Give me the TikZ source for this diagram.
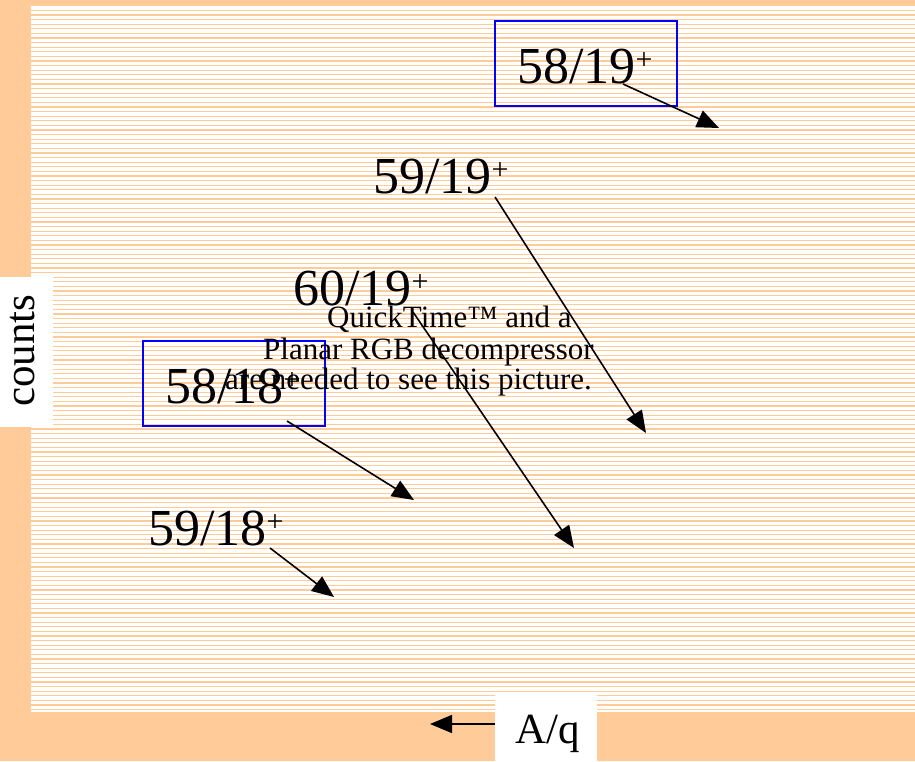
\documentclass[tikz,border=0pt]{standalone}
\usepackage{fontspec}
\setmainfont{Liberation Serif}
\usetikzlibrary{arrows.meta}
\definecolor{peach}{HTML}{FFCC99}
\definecolor{boxblue}{HTML}{0000FF}
\tikzset{
  stripe/.style={draw=peach, line width=1.2pt},
  lbl/.style={anchor=base west, inner sep=0pt, font=\fontsize{52}{52}\selectfont},
  qt/.style={anchor=base west, inner sep=0pt, font=\fontsize{31}{31}\selectfont},
  bluebox/.style={draw=boxblue, line width=1.5pt, inner sep=0pt},
  whitebox/.style={fill=white, draw=none, inner sep=0pt},
  arr/.style={-{Triangle[length=22pt,width=18pt]}, line width=1.6pt},
}
\newcommand{\supplus}{\raisebox{14pt}{\fontsize{30}{30}\selectfont+}}
\begin{document}
\begin{tikzpicture}[x=1pt,y=-1pt]
\useasboundingbox (0,0) rectangle (915,761);
\fill[peach] (0,0) rectangle (915,761);
\fill[white] (31,5) rectangle (915,712);
\foreach \i in {0,...,153} {
  \draw[stripe] (31,5.7+4.6*\i) -- (915,5.7+4.6*\i);
}
% white label boxes
\node[whitebox, minimum width=53pt, minimum height=150pt] (countsbox) at (26.5,352) {};
\node[whitebox, minimum width=102pt, minimum height=66pt] (aqbox) at (546,728) {};
\node[anchor=base west, inner sep=0pt, rotate=90, font=\fontsize{43}{43}\selectfont] (counts) at (34,407) {counts};
\node[anchor=base west, inner sep=0pt, font=\fontsize{43}{43}\selectfont] (aq) at (515,743) {A/q};
\coordinate (aqs) at (495,724);
\coordinate (aqt) at (430,724);
\draw[arr] (aqs) -- (aqt);
% blue boxes
\node[bluebox, minimum width=182pt, minimum height=85pt] (box1) at (586,63.5) {};
\node[bluebox, minimum width=182pt, minimum height=85pt] (box2) at (234,383.5) {};
% labels
\node[lbl] (l5819) at (517,83) {58/19\supplus};
\node[lbl] (l5919) at (373,193) {59/19\supplus};
\node[lbl] (l6019) at (293,305) {60/19\supplus};
\node[lbl] (l5818) at (165,403) {58/18\supplus};
\node[lbl] (l5918) at (148,545) {59/18\supplus};
% QuickTime placeholder text
\node[qt] (qt1) at (327,327) {QuickTime™ and a};
\node[qt] (qt2) at (263,359) {Planar RGB decompressor};
\node[qt] (qt3) at (225,389) {are needed to see this picture.};
% arrows
\coordinate (s1) at (623,84);  \coordinate (t1) at (719,128);
\coordinate (s2) at (495,197); \coordinate (t2) at (646,433);
\coordinate (s3) at (413,312); \coordinate (t3) at (574,548);
\coordinate (s4) at (287,421); \coordinate (t4) at (414,500);
\coordinate (s5) at (270,548); \coordinate (t5) at (334,597);
\draw[arr] (s1) -- (t1);
\draw[arr] (s2) -- (t2);
\draw[arr] (s3) -- (t3);
\draw[arr] (s4) -- (t4);
\draw[arr] (s5) -- (t5);
\end{tikzpicture}
\end{document}
